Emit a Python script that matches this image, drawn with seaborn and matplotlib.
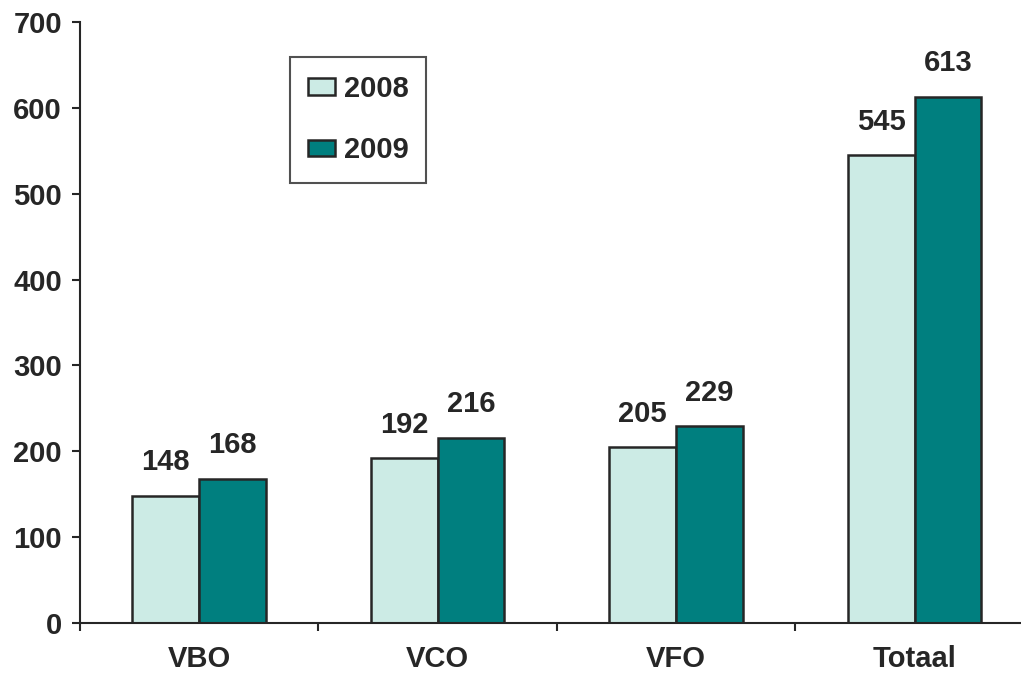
import matplotlib
matplotlib.use("Agg")
import matplotlib.pyplot as plt
import pandas as pd
import seaborn as sns

categories = ["VBO", "VCO", "VFO", "Totaal"]
years = ["2008", "2009"]
values_2008 = [148, 192, 205, 545]
values_2009 = [168, 216, 229, 613]

df = pd.DataFrame({
    "cat": categories * 2,
    "year": [years[0]] * 4 + [years[1]] * 4,
    "value": values_2008 + values_2009,
})

sns.set_style("white")
plt.rcParams["font.family"] = ["Liberation Sans", "DejaVu Sans"]
plt.rcParams["font.weight"] = "bold"

text_col = "#262626"
fs = 21
fig = plt.figure(figsize=(10.21, 6.75), dpi=100)
ax = fig.add_axes([80 / 1021, 52 / 675, 941 / 1021, 601 / 675])

sns.barplot(data=df, x="cat", y="value", hue="year", order=categories,
            hue_order=years, palette=["#CCEBE5", "#007F7F"], width=0.56,
            gap=0, edgecolor="#262626", linewidth=1.8, saturation=1, ax=ax)

for cont in ax.containers:
    ax.bar_label(cont, padding=14, fontsize=fs, fontweight="bold", color=text_col)

ax.set_ylim(0, 700)
ax.set_xlim(-0.5, 3.446)
ax.set_yticks(range(0, 701, 100))
ax.set_xlabel("")
ax.set_ylabel("")
sns.despine(ax=ax)
for s in ["left", "bottom"]:
    ax.spines[s].set_color(text_col)
    ax.spines[s].set_linewidth(1.5)

ax.tick_params(axis="y", direction="out", length=6, width=1.5, color=text_col,
               labelsize=fs, labelcolor=text_col, pad=7, left=True)
ax.tick_params(axis="x", which="major", length=0, labelsize=fs,
               labelcolor=text_col, pad=16)
ax.set_xticks([-0.5, 0.5, 1.5, 2.5], minor=True)
ax.tick_params(axis="x", which="minor", direction="out", length=6, width=1.5,
               color=text_col, bottom=True)
for lbl in ax.get_xticklabels() + ax.get_yticklabels():
    lbl.set_fontweight("bold")

leg = ax.legend(loc="upper left", bbox_to_anchor=(0.223, 0.942), borderaxespad=0,
                frameon=True, fancybox=False, shadow=False, fontsize=fs,
                handlelength=0.92, handleheight=0.48, handletextpad=0.3,
                labelspacing=1.15, borderpad=0.62, title=None)
leg.get_frame().set_edgecolor(text_col)
leg.get_frame().set_linewidth(1.5)
for t in leg.get_texts():
    t.set_color(text_col)
    t.set_fontweight("bold")

fig.savefig("out.png", dpi=100)
